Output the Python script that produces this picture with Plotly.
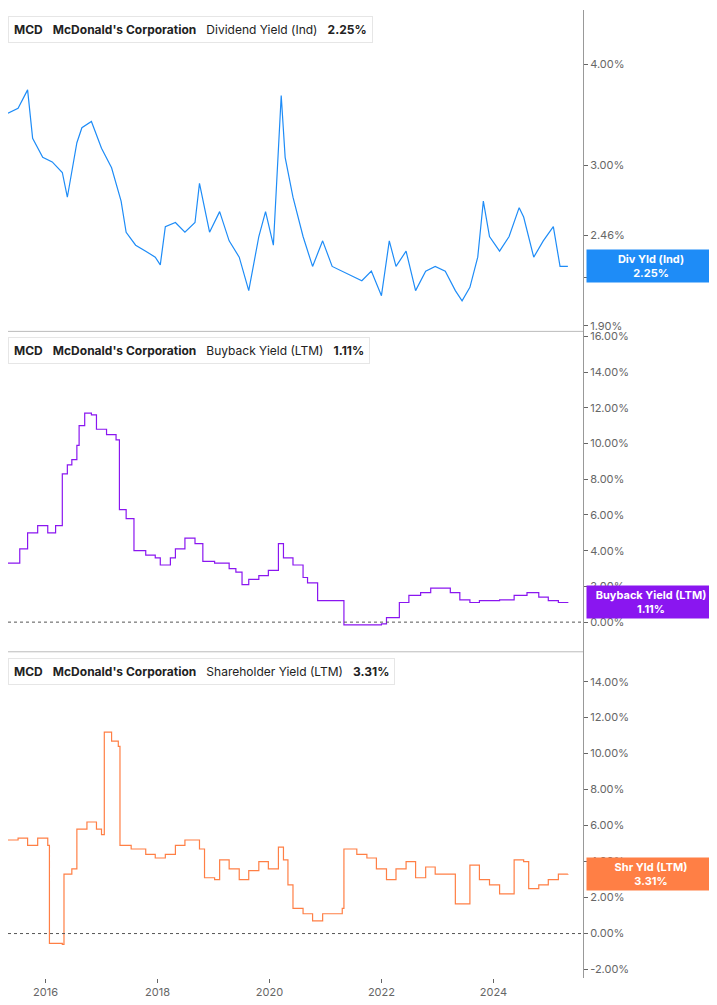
import numpy as np
import plotly.graph_objects as go
from plotly.subplots import make_subplots

# dividend yield (%), decimal years
div_t = [2015.33, 2015.51, 2015.68, 2015.77, 2015.95, 2016.12, 2016.30, 2016.39, 2016.56, 2016.65, 2016.82, 2017.0,
         2017.18, 2017.35, 2017.44, 2017.61, 2017.79, 2017.96, 2018.05, 2018.14, 2018.32, 2018.49, 2018.67, 2018.75,
         2018.93, 2019.11, 2019.28, 2019.46, 2019.63, 2019.81, 2019.93, 2020.07, 2020.21, 2020.28, 2020.42, 2020.60,
         2020.77, 2020.95, 2021.12, 2021.30, 2021.47, 2021.65, 2021.82, 2022.0, 2022.14, 2022.26, 2022.44, 2022.61,
         2022.79, 2022.96, 2023.14, 2023.32, 2023.44, 2023.58, 2023.72, 2023.82, 2023.93, 2024.11, 2024.28, 2024.46,
         2024.54, 2024.72, 2024.89, 2025.07, 2025.19, 2025.33]
div_v = [3.48, 3.53, 3.72, 3.24, 3.07, 3.03, 2.94, 2.74, 3.2, 3.34, 3.4, 3.15,
         2.98, 2.71, 2.48, 2.39, 2.35, 2.31, 2.26, 2.52, 2.55, 2.48, 2.55, 2.85,
         2.48, 2.63, 2.42, 2.31, 2.10, 2.45, 2.63, 2.39, 3.66, 3.07, 2.74, 2.45,
         2.25, 2.42, 2.25, 2.22, 2.19, 2.16, 2.22, 2.07, 2.42, 2.25, 2.35, 2.10,
         2.22, 2.25, 2.22, 2.10, 2.04, 2.12, 2.31, 2.71, 2.45, 2.35, 2.45, 2.66,
         2.59, 2.31, 2.42, 2.52, 2.25, 2.25]

# buyback yield LTM (%)
bb_t = [2015.33, 2015.54, 2015.68, 2015.86, 2016.04, 2016.18, 2016.30, 2016.39, 2016.47, 2016.56, 2016.60, 2016.70,
        2016.82, 2016.91, 2017.09, 2017.26, 2017.32, 2017.44, 2017.53, 2017.58, 2017.79, 2017.96, 2018.05, 2018.23,
        2018.32, 2018.49, 2018.67, 2018.81, 2019.02, 2019.28, 2019.40, 2019.51, 2019.63, 2019.81, 2019.98, 2020.16,
        2020.25, 2020.42, 2020.60, 2020.68, 2020.86, 2021.12, 2021.33, 2022.0, 2022.09, 2022.32, 2022.49, 2022.70,
        2022.88, 2023.05, 2023.23, 2023.40, 2023.58, 2023.75, 2024.11, 2024.37, 2024.60, 2024.81, 2024.98, 2025.16,
        2025.33]
bb_v = [3.3, 4.1, 5.0, 5.4, 5.0, 5.4, 8.3, 8.8, 9.1, 9.9, 11.0, 11.7,
        11.6, 10.8, 10.5, 10.2, 6.3, 5.8, 5.8, 4.0, 3.75, 3.6, 3.2, 3.6,
        4.1, 4.7, 4.4, 3.4, 3.3, 3.0, 2.8, 2.1, 2.4, 2.6, 2.9, 4.4,
        3.6, 3.2, 2.5, 2.2, 1.2, 1.2, -0.15, -0.1, 0.25, 1.1, 1.5, 1.65,
        1.9, 1.9, 1.65, 1.25, 1.1, 1.2, 1.25, 1.5, 1.65, 1.4, 1.2, 1.1,
        1.11]

# shareholder yield LTM (%)
sh_t = [2015.33, 2015.51, 2015.68, 2015.86, 2016.04, 2016.07, 2016.30, 2016.33, 2016.47, 2016.56, 2016.74, 2016.91,
        2017.0, 2017.05, 2017.18, 2017.30, 2017.33, 2017.53, 2017.79, 2017.96, 2018.14, 2018.32, 2018.49, 2018.75,
        2018.84, 2019.02, 2019.11, 2019.28, 2019.46, 2019.63, 2019.81, 2019.98, 2020.16, 2020.25, 2020.33, 2020.42,
        2020.60, 2020.77, 2020.95, 2021.12, 2021.30, 2021.33, 2021.56, 2021.74, 2021.91, 2022.09, 2022.26, 2022.44,
        2022.61, 2022.79, 2022.96, 2023.14, 2023.32, 2023.49, 2023.58, 2023.75, 2023.93, 2024.11, 2024.28, 2024.37,
        2024.54, 2024.63, 2024.81, 2024.98, 2025.16, 2025.33]
sh_v = [5.2, 5.3, 4.9, 5.3, 4.9, -0.55, -0.6, 3.3, 3.6, 5.8, 6.2, 5.8,
        5.5, 11.2, 10.7, 10.4, 4.9, 4.7, 4.4, 4.2, 4.4, 4.9, 5.2, 4.7,
        3.1, 3.0, 4.1, 3.6, 3.0, 3.5, 4.0, 3.6, 4.8, 4.1, 2.7, 1.4,
        1.1, 0.7, 1.1, 1.1, 1.4, 4.7, 4.4, 4.2, 3.6, 3.0, 3.6, 4.0,
        3.1, 3.7, 3.3, 3.3, 1.65, 1.65, 3.8, 3.0, 2.7, 2.2, 2.2, 4.1,
        4.0, 2.5, 2.7, 3.0, 3.3, 3.31]

BLUE = "#1e8cf7"
PURPLE = "#8a16f0"
ORANGE = "#ff7f45"
GRAY = "#666666"

fig = make_subplots(rows=3, cols=1, shared_xaxes=True, vertical_spacing=0)
fig.add_trace(go.Scatter(x=div_t, y=div_v, mode="lines", line=dict(color=BLUE, width=1.2)), row=1, col=1)
fig.add_trace(go.Scatter(x=bb_t, y=bb_v, mode="lines", line=dict(color=PURPLE, width=1.2, shape="hv")), row=2, col=1)
fig.add_trace(go.Scatter(x=sh_t, y=sh_v, mode="lines", line=dict(color=ORANGE, width=1.2, shape="hv")), row=3, col=1)

tickfont = dict(family="Inter, Roboto", size=11, color=GRAY)
doms = [[0.668, 1], [0.337, 0.668], [0, 0.337]]
for i in range(3):
    fig.update_yaxes(domain=doms[i], side="right", ticks="outside", ticklen=4, tickcolor=GRAY,
                     showgrid=False, zeroline=False, tickfont=tickfont, showline=True,
                     linecolor="#999999", row=i + 1, col=1)
fig.update_yaxes(type="log", range=[np.log10(1.87), np.log10(4.67)],
                 tickvals=[1.9, 2.18, 2.46, 3.0, 4.0],
                 ticktext=["1.90%", "2.18%", "2.46%", "3.00%", "4.00%"], row=1, col=1)
fig.update_yaxes(range=[-1.66, 16.28], tickvals=list(range(0, 17, 2)),
                 ticktext=["%.2f%%" % v for v in range(0, 17, 2)], row=2, col=1)
fig.update_yaxes(range=[-2.47, 15.66], tickvals=list(range(-2, 15, 2)),
                 ticktext=["%.2f%%" % v for v in range(-2, 15, 2)], row=3, col=1)
for i in range(3):
    fig.update_xaxes(range=[2015.33, 2025.6], showgrid=False, zeroline=False, row=i + 1, col=1)
fig.update_xaxes(tickvals=[2016, 2018, 2020, 2022, 2024], ticktext=["2016", "2018", "2020", "2022", "2024"],
                 ticks="outside", ticklen=4, tickcolor=GRAY, tickfont=tickfont, row=3, col=1)

# panel separators and zero lines
for yb in [0.668, 0.337]:
    fig.add_shape(type="line", xref="paper", yref="paper", x0=0, x1=1, y0=yb, y1=yb,
                  line=dict(color="#bbbbbb", width=1))
fig.add_hline(y=0, line=dict(color="#555555", width=1, dash="dot"), row=2, col=1)
fig.add_hline(y=0, line=dict(color="#555555", width=1, dash="dot"), row=3, col=1)

headers = [("Dividend Yield (Ind)", "2.25%", BLUE, 1.0),
           ("Buyback Yield (LTM)", "1.11%", PURPLE, 0.668),
           ("Shareholder Yield (LTM)", "3.31%", ORANGE, 0.337)]
for name, val, col, top in headers:
    fig.add_annotation(xref="paper", yref="paper", x=0.0, y=top - 0.006, xanchor="left", yanchor="top",
                       text="<b>MCD</b>   <b>McDonald's Corporation</b>   %s   <b>%s</b>" % (name, val),
                       showarrow=False, bgcolor="white", bordercolor="#e6e6e6", borderwidth=1, borderpad=5,
                       font=dict(family="Inter, Roboto", size=12, color="#222222"))
    fig.add_shape(type="rect", xref="paper", yref="paper", x0=0, x1=0.006, y0=top - 0.033, y1=top - 0.008,
                  fillcolor=col, line_width=0)

badges = [("Div Yld (Ind)", "2.25%", BLUE, 1, 2.25),
          ("Buyback Yield (LTM)", "1.11%", PURPLE, 2, 1.11),
          ("Shr Yld (LTM)", "3.31%", ORANGE, 3, 3.31)]
for lab, val, col, r, yv in badges:
    yref = "y" if r == 1 else "y%d" % r
    fig.add_annotation(xref="paper", yref=yref, x=1.005, y=np.log10(yv) if r == 1 else yv,
                       xanchor="left", yanchor="middle", text="<b>%s<br>%s</b>" % (lab, val),
                       showarrow=False, bgcolor=col, width=124, borderpad=2,
                       font=dict(family="Inter, Roboto", size=11, color="white"))

fig.update_layout(width=717, height=1005, margin=dict(l=0, r=142, t=0, b=35),
                  plot_bgcolor="white", paper_bgcolor="white", showlegend=False)
fig.write_html("out.html")
